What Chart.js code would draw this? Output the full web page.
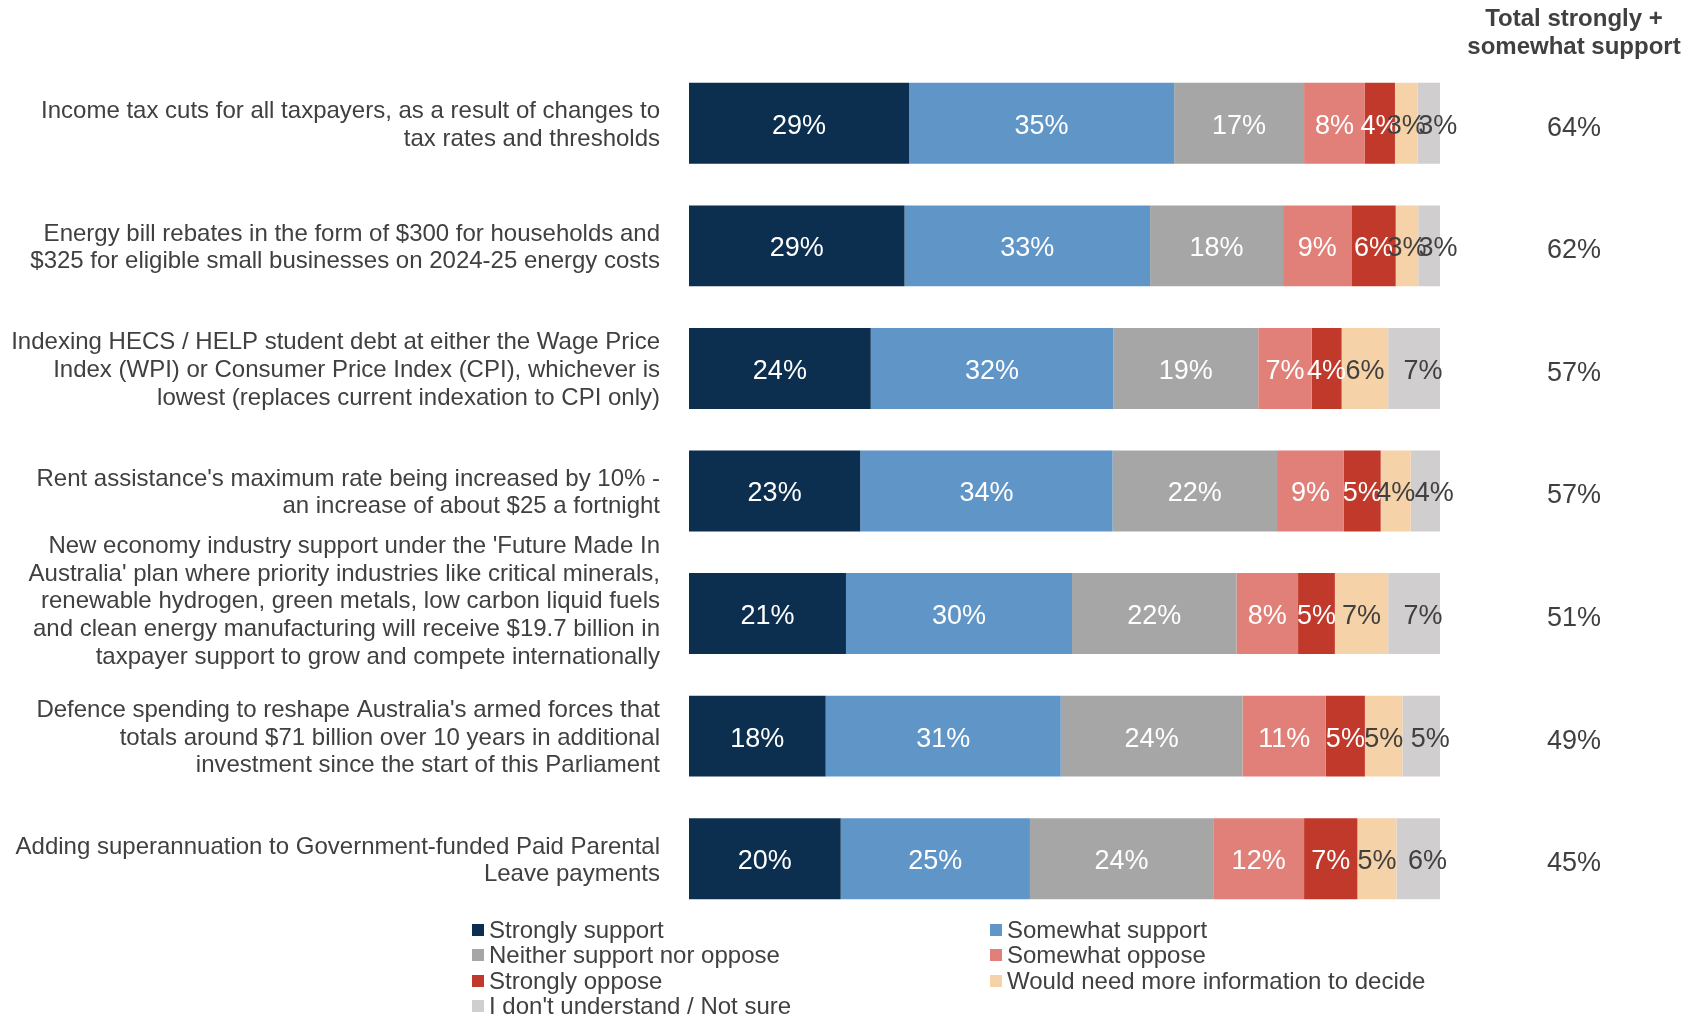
<!DOCTYPE html>
<html>
<head>
<meta charset="utf-8">
<script src="https://cdn.jsdelivr.net/npm/chart.js@4.4.1/dist/chart.umd.min.js"></script>
<style>
  html, body { margin: 0; padding: 0; background: #fff; }
  #wrap { position: relative; width: 1696px; height: 1017px; }
  #legend {
    position: absolute; left: 472px; top: 917px;
    display: grid; grid-template-columns: 518px 560px;
    font-family: "Liberation Sans", Arial, sans-serif; font-size: 24px; color: #404040;
    line-height: 25.4px;
  }
  .lg { display: flex; align-items: center; white-space: nowrap; }
  .lg i { display: inline-block; flex: 0 0 12px; width: 12px; height: 12px; margin-right: 5px; }
</style>
</head>
<body>
<div id="wrap">
  <canvas id="c" width="1696" height="1017"></canvas>
  <div id="legend"></div>
</div>
<script>
// Policy support survey - stacked horizontal bars

const CATEGORIES = [
  ["Income tax cuts for all taxpayers, as a result of changes to", "tax rates and thresholds"],
  ["Energy bill rebates in the form of $300 for households and", "$325 for eligible small businesses on 2024-25 energy costs"],
  ["Indexing HECS / HELP student debt at either the Wage Price", "Index (WPI) or Consumer Price Index (CPI), whichever is", "lowest (replaces current indexation to CPI only)"],
  ["Rent assistance's maximum rate being increased by 10% -", "an increase of about $25 a fortnight"],
  ["New economy industry support under the 'Future Made In", "Australia' plan where priority industries like critical minerals,", "renewable hydrogen, green metals, low carbon liquid fuels", "and clean energy manufacturing will receive $19.7 billion in", "taxpayer support to grow and compete internationally", ""],
  ["Defence spending to reshape Australia's armed forces that", "totals around $71 billion over 10 years in additional", "investment since the start of this Parliament"],
  ["Adding superannuation to Government-funded Paid Parental", "Leave payments"],
];

const STRONGLY_SUPPORT = [29.3, 28.7, 24.2, 22.8, 20.9, 18.2, 20.2];
const SOMEWHAT_SUPPORT = [35.3, 32.7, 32.3, 33.6, 30.1, 31.3, 25.2];
const NEITHER          = [17.3, 17.7, 19.3, 21.9, 21.9, 24.2, 24.4];
const SOMEWHAT_OPPOSE  = [8.1, 9.1, 7.1, 8.9, 8.2, 11.1, 12.1];
const STRONGLY_OPPOSE  = [4.0, 5.9, 4.0, 4.9, 4.9, 5.2, 7.1];
const NEED_MORE_INFO   = [3.0, 3.0, 6.2, 4.0, 7.1, 5.0, 5.2];
const NOT_SURE         = [3.0, 2.9, 6.9, 3.9, 6.9, 5.0, 5.9];

const TOTAL_SUPPORT = [64, 62, 57, 57, 51, 49, 45];

const C = {
  navy:   "#0C2F4F",
  blue:   "#6095C7",
  grey:   "#A6A6A6",
  salmon: "#E08079",
  red:    "#C0392B",
  peach:  "#F5D2A8",
  light:  "#D0CECF",
  text:   "#404040",
};

const FONT = "'Liberation Sans', Arial, sans-serif";

// dx: small nudge of the value label (last segment sits a bit right in the original)
const SERIES = [
  { label: "Strongly support", data: STRONGLY_SUPPORT, color: C.navy, dark: false, dx: 0 },
  { label: "Somewhat support", data: SOMEWHAT_SUPPORT, color: C.blue, dark: false, dx: 0 },
  { label: "Neither support nor oppose", data: NEITHER, color: C.grey, dark: false, dx: 0 },
  { label: "Somewhat oppose", data: SOMEWHAT_OPPOSE, color: C.salmon, dark: false, dx: 0 },
  { label: "Strongly oppose", data: STRONGLY_OPPOSE, color: C.red, dark: false, dx: 0 },
  { label: "Would need more information to decide", data: NEED_MORE_INFO, color: C.peach, dark: true, dx: 0 },
  { label: "I don't understand / Not sure", data: NOT_SURE, color: C.light, dark: true, dx: 9 },
];

// segment labels + totals column on the right
const labelsPlugin = {
  id: "segLabels",
  afterDatasetsDraw(chart) {
    const ctx = chart.ctx;
    ctx.save();
    ctx.font = `27px ${FONT}`;
    ctx.textAlign = "center";
    ctx.textBaseline = "middle";
    chart.data.datasets.forEach((ds, di) => {
      const meta = chart.getDatasetMeta(di);
      meta.data.forEach((bar, i) => {
        ctx.fillStyle = SERIES[di].dark ? C.text : "#ffffff";
        ctx.fillText(Math.round(ds.data[i]) + "%", (bar.x + bar.base) / 2 + SERIES[di].dx, bar.y + 3);
      });
    });

    const y = chart.scales.y;
    ctx.fillStyle = C.text;
    TOTAL_SUPPORT.forEach((t, i) => {
      ctx.fillText(t + "%", 1574, y.getPixelForValue(i) + 5);
    });

    ctx.font = `bold 24px ${FONT}`;
    ctx.fillText("Total strongly +", 1574, 19);
    ctx.fillText("somewhat support", 1574, 47);
    ctx.restore();
  },
};

new Chart(document.getElementById("c"), {
  type: "bar",
  data: {
    labels: CATEGORIES,
    datasets: SERIES.map((s) => ({
      label: s.label,
      data: s.data,
      backgroundColor: s.color,
      borderWidth: 0,
      barPercentage: 0.66,
      categoryPercentage: 1,
    })),
  },
  options: {
    indexAxis: "y",
    responsive: false,
    animation: false,
    layout: { padding: { top: 62, bottom: 97, left: 0, right: 256 } },
    plugins: { legend: { display: false }, tooltip: { enabled: false } },
    scales: {
      x: { stacked: true, min: 0, max: 100, display: false },
      y: {
        stacked: true,
        grid: { display: false },
        border: { display: false },
        ticks: {
          autoSkip: false,
          color: C.text,
          padding: 21,
          labelOffset: 2,
          font: { family: FONT, size: 24, lineHeight: 1.15 },
        },
        afterFit(s) { s.width = 689; },
      },
    },
  },
  plugins: [labelsPlugin],
});

document.getElementById("legend").innerHTML = SERIES
  .map((s) => `<div class="lg"><i style="background:${s.color}"></i>${s.label}</div>`)
  .join("");
</script>
</body>
</html>
